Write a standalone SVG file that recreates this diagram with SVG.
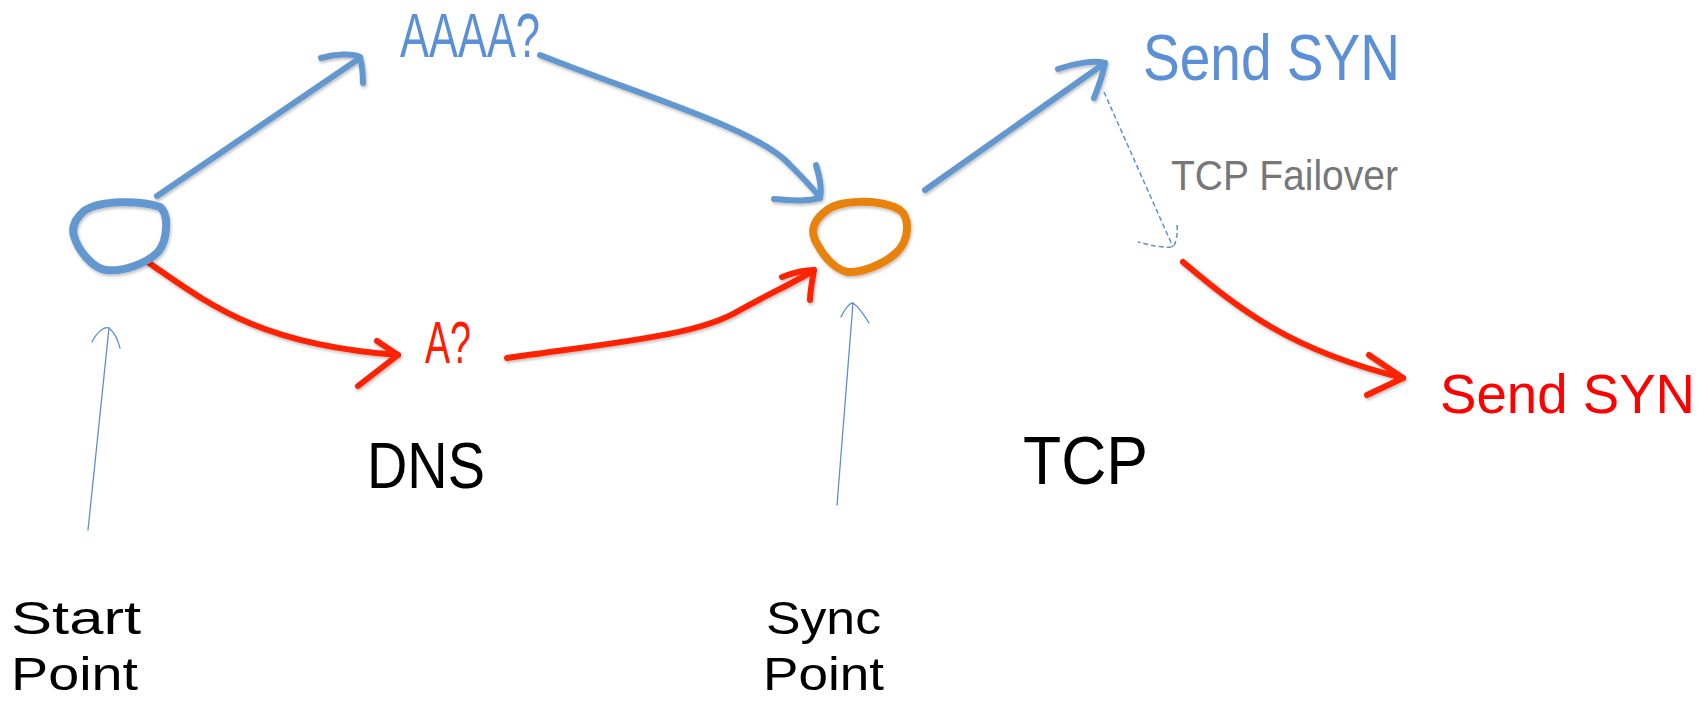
<svg xmlns="http://www.w3.org/2000/svg" width="1706" height="701" viewBox="0 0 1706 701">
<defs>
<style>
.t{font-family:"Liberation Sans","DejaVu Sans",sans-serif;}
.blue{stroke:#6497cf;fill:none;stroke-width:6;stroke-linecap:round;stroke-linejoin:round;}
.red{stroke:#ff2200;fill:none;stroke-width:6;stroke-linecap:round;stroke-linejoin:round;}
.thin{stroke:#5b8fd0;fill:none;stroke-width:1.3;stroke-linecap:round;}
.dash{stroke:#5b8fd0;fill:none;stroke-width:1.5;stroke-dasharray:5 3;}
.sh{filter:url(#ds);}
</style>
<filter id="ds" x="-20%" y="-20%" width="140%" height="140%">
<feDropShadow dx="1" dy="2" stdDeviation="1.5" flood-color="#000" flood-opacity="0.25"/>
</filter>
</defs>
<rect width="1706" height="701" fill="#fff"/>
<g id="connectors">
<g class="sh">
<path class="blue" d="M157,196 L360,58"/>
<path class="blue" d="M321,58 C 335,54 352,53 360,57 C 362,65 363,75 363,83"/>
<path class="blue" d="M540,55 C 640,95 760,130 790,165 C 805,180 815,190 820,198"/>
<path class="blue" d="M816,165 C 820,178 822,190 820,198 C 805,202 790,200 774,199"/>
<path class="red" d="M149,263 C 210,305 260,345 398,355"/>
<path class="red" d="M377,341 L398,355 L358,386"/>
<path class="red" d="M507,358 C 620,342 700,335 740,310 C 770,293 800,280 814,270"/>
<path class="red" d="M782,277 C 795,272 806,270 814,270 C 812,282 810,292 810,300"/>
<path class="blue" d="M925,190 L1105,63"/>
<path class="blue" d="M1058,69 C 1075,63 1095,60 1105,63 C 1103,75 1098,88 1094,98"/>
<path class="red" d="M1183,262 C 1240,310 1290,350 1403,378"/>
<path class="red" d="M1369,355 L1403,378 L1367,395"/>
</g>
<path class="dash" d="M1104,92 L1173,247"/>
<path class="dash" d="M1177,225 C 1178,235 1176,243 1173,247 C 1160,248 1150,245 1138,242"/>
<path class="thin" d="M88,530 L109,328"/>
<path class="thin" d="M92,342 C 96,333 104,326 109,328 C 114,332 118,340 120,348"/>
<path class="thin" d="M837,505 L853,303"/>
<path class="thin" d="M841,317 C 845,308 850,303 853,303 C 860,308 866,318 869,323"/>
</g>
<g id="start-node" class="sh">
<path d="M84,211 C 100,200 140,200 160,207 C 169,214 168,240 158,252 C 146,264 122,272 106,270 C 92,268 78,250 74,236 C 71,226 76,218 84,211 Z" fill="none" stroke="#6497cf" stroke-width="8"/>
</g>
<g id="sync-node" class="sh">
<path d="M826,211 C 836,200 880,198 900,210 C 910,218 910,240 896,253 C 884,264 862,273 848,272 C 836,270 824,258 815,240 C 810,228 816,218 826,211 Z" fill="none" stroke="#e8820c" stroke-width="8"/>
</g>
<g id="aaaa"><text class="t" x="400" y="57" font-size="63" fill="#5b8fd6" textLength="140" lengthAdjust="spacingAndGlyphs">AAAA?</text></g>
<g id="a"><text class="t" x="425" y="363" font-size="60" fill="#ff1a00" textLength="46" lengthAdjust="spacingAndGlyphs">A?</text></g>
<g id="send-syn-blue"><text class="t" x="1143" y="80" font-size="65" fill="#5b8fd6" textLength="257" lengthAdjust="spacingAndGlyphs">Send SYN</text></g>
<g id="tcp-failover"><text class="t" x="1171" y="190" font-size="43" fill="#777" textLength="227" lengthAdjust="spacingAndGlyphs">TCP Failover</text></g>
<g id="send-syn-red"><text class="t" x="1440" y="413" font-size="55" fill="#ff0000" textLength="255" lengthAdjust="spacingAndGlyphs">Send SYN</text></g>
<g id="dns"><text class="t" x="367" y="488" font-size="64" fill="#000" textLength="118" lengthAdjust="spacingAndGlyphs">DNS</text></g>
<g id="tcp"><text class="t" x="1023" y="484" font-size="68" fill="#000" textLength="125" lengthAdjust="spacingAndGlyphs">TCP</text></g>
<g id="start-label">
<text class="t" x="11" y="634" font-size="47" fill="#000" textLength="130" lengthAdjust="spacingAndGlyphs">Start</text>
<text class="t" x="11" y="690" font-size="47" fill="#000" textLength="127" lengthAdjust="spacingAndGlyphs">Point</text>
</g>
<g id="sync-label">
<text class="t" x="766" y="634" font-size="47" fill="#000" textLength="115" lengthAdjust="spacingAndGlyphs">Sync</text>
<text class="t" x="763" y="690" font-size="47" fill="#000" textLength="121" lengthAdjust="spacingAndGlyphs">Point</text>
</g>
</svg>
